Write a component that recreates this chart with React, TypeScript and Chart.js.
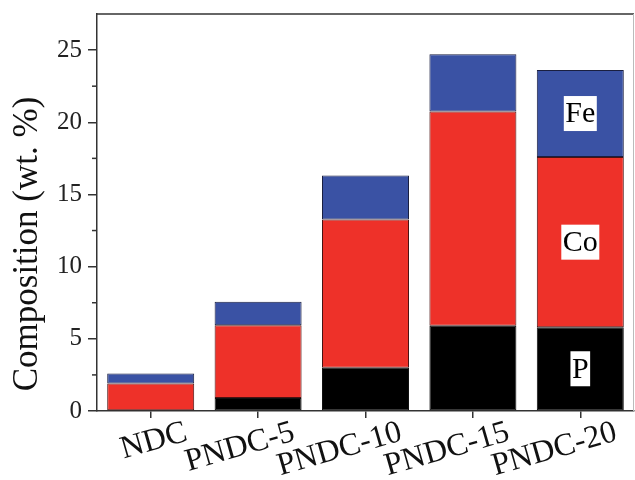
import React, { useEffect, useRef } from "react";
import { Chart, registerables } from "chart.js";

Chart.register(...registerables);

const CATEGORIES = ["NDC", "PNDC-5", "PNDC-10", "PNDC-15", "PNDC-20"];
const P_VALUES = [0, 0.9, 3.0, 5.9, 5.8];
const CO_VALUES = [1.9, 5.04, 10.26, 14.84, 11.79];
const FE_VALUES = [0.69, 1.62, 3.06, 3.98, 6.03];
const SERIES_NAMES = ["P", "Co", "Fe"];
const Y_MAJOR_TICKS = [0, 5, 10, 15, 20, 25];
const Y_MINOR_TICKS = [2.5, 7.5, 12.5, 17.5, 22.5];
const Y_MIN = 0;
const Y_MAX = 27.5;
const Y_TITLE = "Composition (wt. %)";

const FONT = "'Liberation Serif', 'Times New Roman', serif";
const AXIS_COLOR = "#333333";

const customDraw = {
  id: "customDraw",
  afterDraw(chart: any) {
    const ctx = chart.ctx;
    const area = chart.chartArea;
    const xs = chart.scales.x;
    const ys = chart.scales.y;
    ctx.save();

    // top frame line
    ctx.strokeStyle = AXIS_COLOR;
    ctx.lineWidth = 1.5;
    ctx.beginPath();
    ctx.moveTo(area.left, area.top);
    ctx.lineTo(area.right, area.top);
    ctx.stroke();
    // right frame line (light)
    ctx.strokeStyle = "#bbbbbb";
    ctx.lineWidth = 1;
    ctx.beginPath();
    ctx.moveTo(area.right - 0.5, area.top);
    ctx.lineTo(area.right - 0.5, area.bottom);
    ctx.stroke();

    // minor y ticks
    ctx.strokeStyle = AXIS_COLOR;
    ctx.lineWidth = 1.5;
    Y_MINOR_TICKS.forEach((v) => {
      const py = ys.getPixelForValue(v);
      ctx.beginPath();
      ctx.moveTo(area.left - 5, py);
      ctx.lineTo(area.left, py);
      ctx.stroke();
    });

    // x labels (rotated)
    ctx.fillStyle = "#111111";
    ctx.font = `32px ${FONT}`;
    ctx.textAlign = "right";
    ctx.textBaseline = "alphabetic";
    CATEGORIES.forEach((label, i) => {
      const px = xs.getPixelForTick(i);
      ctx.save();
      ctx.translate(px + 38, area.bottom + 29);
      ctx.rotate((-16 * Math.PI) / 180);
      ctx.fillText(label, 0, 0);
      ctx.restore();
    });

    // y title
    ctx.save();
    ctx.font = `35px ${FONT}`;
    ctx.textAlign = "center";
    ctx.textBaseline = "middle";
    ctx.translate(28, 244);
    ctx.rotate(-Math.PI / 2);
    ctx.fillText(Y_TITLE, 0, 0);
    ctx.restore();

    // element labels on the last bar
    const last = CATEGORIES.length - 1;
    ctx.font = `30px ${FONT}`;
    ctx.textAlign = "center";
    ctx.textBaseline = "middle";
    SERIES_NAMES.forEach((name, di) => {
      const el = chart.getDatasetMeta(di).data[last];
      if (!el) return;
      const cx = el.x;
      const cy = (el.y + el.base) / 2;
      const w = ctx.measureText(name).width + 3;
      const h = 35;
      ctx.fillStyle = "#ffffff";
      ctx.fillRect(cx - w / 2, cy - h / 2, w, h);
      ctx.fillStyle = "#000000";
      ctx.fillText(name, cx, cy + 1);
    });

    ctx.restore();
  },
};

export default function App() {
  const ref = useRef<HTMLCanvasElement | null>(null);

  useEffect(() => {
    document.body.style.margin = "0";
    const canvas = ref.current;
    if (!canvas) return;
    const chart = new Chart(canvas, {
      type: "bar",
      data: {
        labels: CATEGORIES,
        datasets: [
          {
            label: SERIES_NAMES[0],
            data: P_VALUES,
            backgroundColor: "#000000",
            borderColor: "#111111",
            borderWidth: 1,
            borderSkipped: false,
          },
          {
            label: SERIES_NAMES[1],
            data: CO_VALUES,
            backgroundColor: "#ee3129",
            borderColor: "#4a1212",
            borderWidth: 1,
            borderSkipped: false,
          },
          {
            label: SERIES_NAMES[2],
            data: FE_VALUES,
            backgroundColor: "#3a52a4",
            borderColor: "#1a1f40",
            borderWidth: 1,
            borderSkipped: false,
          },
        ],
      },
      options: {
        responsive: false,
        animation: false,
        devicePixelRatio: 1,
        layout: { padding: { top: 14, right: 1, left: 0, bottom: 0 } },
        datasets: {
          bar: { barPercentage: 0.81, categoryPercentage: 1 },
        },
        plugins: {
          legend: { display: false },
          tooltip: { enabled: false },
        },
        scales: {
          x: {
            stacked: true,
            afterFit: (s: any) => {
              s.height = 69;
              s.paddingLeft = 0;
              s.paddingRight = 0;
            },
            grid: {
              offset: false,
              drawOnChartArea: false,
              drawTicks: true,
              tickLength: 7,
              color: AXIS_COLOR,
              lineWidth: 1.5,
            },
            border: { display: true, color: AXIS_COLOR, width: 1.5 },
            ticks: { display: false },
          },
          y: {
            stacked: true,
            min: Y_MIN,
            max: Y_MAX,
            afterBuildTicks: (s: any) => {
              s.ticks = Y_MAJOR_TICKS.map((v) => ({ value: v }));
            },
            afterFit: (s: any) => {
              s.width = 97;
              s.paddingTop = 0;
              s.paddingBottom = 0;
            },
            grid: {
              drawOnChartArea: false,
              drawTicks: true,
              tickLength: 9,
              color: AXIS_COLOR,
              lineWidth: 1.5,
            },
            border: { display: true, color: AXIS_COLOR, width: 1.5 },
            ticks: {
              color: "#222222",
              padding: 6,
              font: { family: FONT, size: 25, lineHeight: 1 },
            },
          },
        },
      },
      plugins: [customDraw],
    });
    return () => chart.destroy();
  }, []);

  return (
    <div style={{ width: 635, height: 480 }}>
      <canvas ref={ref} width={635} height={480} style={{ display: "block" }} />
    </div>
  );
}
